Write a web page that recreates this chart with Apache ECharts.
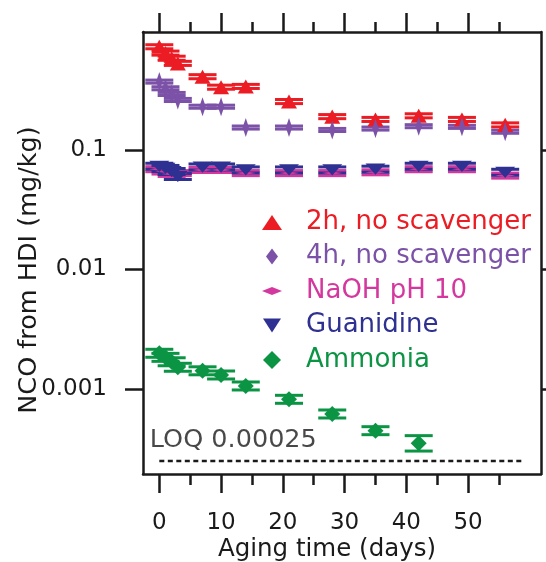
<!DOCTYPE html>
<html>
<head>
<meta charset="utf-8">
<script src="https://cdn.jsdelivr.net/npm/echarts@6/dist/echarts.min.js"></script>
<style>html,body{margin:0;padding:0;background:#fff}#c{width:546px;height:562px}</style>
</head>
<body>
<div id="c"></div>
<script>
// ---- data ----
const days = [0, 1, 2, 3, 7, 10, 14, 21, 28, 35, 42, 49, 56];
const red2h = [0.73, 0.646, 0.585, 0.53, 0.41, 0.335, 0.34, 0.254, 0.19, 0.18, 0.193, 0.18, 0.162];
const red2hErr = [0.04, 0.04, 0.04, 0.04, 0.04, 0.04, 0.04, 0.04, 0.04, 0.04, 0.04, 0.04, 0.04];
const purple4h = [0.373, 0.328, 0.294, 0.262, 0.23, 0.23, 0.154, 0.154, 0.147, 0.151, 0.158, 0.156, 0.142];
const purple4hErr = [0.03, 0.03, 0.03, 0.03, 0.03, 0.03, 0.03, 0.03, 0.03, 0.03, 0.03, 0.03, 0.03];
const naoh = [0.069, 0.066, 0.063, 0.064, 0.068, 0.068, 0.064, 0.064, 0.064, 0.065, 0.069, 0.069, 0.061];
const naohErr = [0.05, 0.05, 0.05, 0.05, 0.05, 0.05, 0.05, 0.05, 0.05, 0.05, 0.05, 0.05, 0.05];
const guanidine = [0.073, 0.07, 0.066, 0.06, 0.072, 0.072, 0.068, 0.068, 0.068, 0.069, 0.073, 0.073, 0.065];
const guanidineErr = [0.06, 0.06, 0.06, 0.06, 0.06, 0.06, 0.06, 0.06, 0.06, 0.06, 0.06, 0.06, 0.06];
const ammoniaDays = [0, 1, 2, 3, 7, 10, 14, 21, 28, 35, 42];
const ammonia = [0.00199, 0.00184, 0.00169, 0.00152, 0.00142, 0.00131, 0.00106, 0.00082, 0.000618, 0.000448, 0.000351];
const ammoniaErr = [0.08, 0.08, 0.08, 0.08, 0.08, 0.08, 0.08, 0.08, 0.08, 0.08, 0.16];
const loqValue = 0.00025;
const loqDays = [0, 59];
const xMajorTicks = [0, 10, 20, 30, 40, 50];
const xMinorTicks = [5, 15, 25, 35, 45, 55];
const yTicks = [0.001, 0.01, 0.1];
const yTickLabels = ['0.001', '0.01', '0.1'];
const names = ['2h, no scavenger', '4h, no scavenger', 'NaOH pH 10', 'Guanidine', 'Ammonia'];
const colors = ['#ec1c24', '#7b52a7', '#d4389e', '#2e3192', '#0b9444'];

// ---- shapes ----
const P_TRI = 'path://M8,0 L16,15 L0,15 Z';
const P_DIA_TALL = 'path://M5.5,0 L11,9.5 L5.5,19 L0,9.5 Z';
const P_DIA_FLAT = 'path://M0,4 L10,0 L20,4 L10,8 Z';
const P_INV_TRI = 'path://M0,0 L20,0 L10,15 Z';
const P_DIA = 'path://M8,0 L16,8 L8,16 L0,8 Z';
// legend icons padded into a common 20x20 box
const L_TRI = 'path://M0,0 M20,20 M10,3 L20,18 L0,18 Z';
const L_DIA_TALL = 'path://M0,0 M20,20 M10,2 L16,10 L10,18 L4,10 Z';
const L_DIA_FLAT = 'path://M0,0 M20,20 M0,10 L10,6 L20,10 L10,14 Z';
const L_INV_TRI = 'path://M0,0 M20,20 M1,3 L19,3 L10,17 Z';
const L_DIA = 'path://M0,0 M20,20 M10,1 L19,10 L10,19 L1,10 Z';

function pairs(xs, ys) { return xs.map((x, i) => [x, ys[i]]); }

function errSeries(id, xs, ys, errs, color) {
  return {
    type: 'custom', name: id, silent: true,
    xAxisIndex: 0, yAxisIndex: 0,
    data: xs.map((x, i) => [x, ys[i] / (1 + errs[i]), ys[i] * (1 + errs[i])]),
    encode: { x: 0, y: [1, 2] },
    renderItem: function (params, api) {
      const x = api.value(0);
      const lo = api.coord([x, api.value(1)]);
      const hi = api.coord([x, api.value(2)]);
      const hw = 14;
      const st = { stroke: color, lineWidth: 3 };
      return {
        type: 'group', children: [
          { type: 'line', shape: { x1: lo[0], y1: lo[1], x2: hi[0], y2: hi[1] }, style: st },
          { type: 'line', shape: { x1: lo[0] - hw, y1: lo[1], x2: lo[0] + hw, y2: lo[1] }, style: st },
          { type: 'line', shape: { x1: hi[0] - hw, y1: hi[1], x2: hi[0] + hw, y2: hi[1] }, style: st }
        ]
      };
    }
  };
}

function scatter(name, xs, ys, color, symbol, size) {
  return {
    type: 'scatter', name: name, xAxisIndex: 0, yAxisIndex: 0,
    data: pairs(xs, ys), symbol: symbol, symbolSize: size, symbolKeepAspect: true,
    itemStyle: { color: color, opacity: 1 }
  };
}

const FONT = 'DejaVu Sans';
const black = '#1a1a1a';
const xMin = -2.64, xMax = 61.8;
const yMin = 1.945e-4, yMax = 0.97;

const xBase = { type: 'value', min: xMin, max: xMax, gridIndex: 0, splitLine: { show: false } };
const yBase = { type: 'log', logBase: 10, min: yMin, max: yMax, gridIndex: 0, splitLine: { show: false } };

const option = {
  animation: false,
  backgroundColor: '#fff',
  grid: { left: 143, right: 5, top: 32, bottom: 88, containLabel: false, outerBoundsMode: 'none' },
  xAxis: [
    Object.assign({}, xBase, {
      position: 'bottom',
      axisLine: { show: true, onZero: false, lineStyle: { color: black, width: 2.5 } },
      axisTick: { show: true, customValues: xMajorTicks, length: 19, lineStyle: { color: black, width: 2.5 } },
      axisLabel: { customValues: xMajorTicks, fontSize: 23, fontFamily: FONT, color: black, margin: 38 },
      name: 'Aging time (days)', nameLocation: 'middle', nameGap: 63, nameMoveOverlap: false,
      nameTextStyle: { fontSize: 24.5, fontFamily: FONT, color: black, padding: [0, 30, 0, 0] }
    }),
    Object.assign({}, xBase, {
      position: 'bottom',
      axisLine: { show: false, onZero: false },
      axisTick: { show: true, customValues: xMinorTicks, length: 11, lineStyle: { color: black, width: 2.5 } },
      axisLabel: { show: false }
    }),
    Object.assign({}, xBase, {
      position: 'top',
      axisLine: { show: true, onZero: false, lineStyle: { color: black, width: 2.5 } },
      axisTick: { show: true, customValues: xMajorTicks, length: 19, lineStyle: { color: black, width: 2.5 } },
      axisLabel: { show: false }
    }),
    Object.assign({}, xBase, {
      position: 'top',
      axisLine: { show: false, onZero: false },
      axisTick: { show: true, customValues: xMinorTicks, length: 10, lineStyle: { color: black, width: 2.5 } },
      axisLabel: { show: false }
    })
  ],
  yAxis: [
    Object.assign({}, yBase, {
      position: 'left',
      axisLine: { show: true, onZero: false, lineStyle: { color: black, width: 2.5 } },
      axisTick: { show: true, customValues: yTicks, length: 18, lineStyle: { color: black, width: 2.5 } },
      axisLabel: {
        customValues: yTicks, fontSize: 23, fontFamily: FONT, color: black, margin: 36,
        formatter: function (v) {
          for (let i = 0; i < yTicks.length; i++) if (Math.abs(Math.log10(v) - Math.log10(yTicks[i])) < 1e-6) return yTickLabels[i];
          return '';
        }
      },
      name: 'NCO from HDI (mg/kg)', nameLocation: 'middle', nameGap: 101, nameRotate: 90, nameMoveOverlap: false,
      nameTextStyle: { fontSize: 25.5, fontFamily: FONT, color: black, padding: [0, 34, 0, 0] }
    }),
    Object.assign({}, yBase, {
      position: 'right',
      axisLine: { show: true, onZero: false, lineStyle: { color: black, width: 2.5 } },
      axisTick: { show: true, customValues: yTicks, length: 12, lineStyle: { color: black, width: 2.5 } },
      axisLabel: { show: false }
    })
  ],
  legend: {
    orient: 'vertical', left: 257, top: 204,
    itemWidth: 20, itemHeight: 20, itemGap: 8.5, symbolKeepAspect: true,
    textStyle: { fontSize: 26, fontFamily: FONT, padding: [0, 0, 0, 19] },
    selectedMode: false,
    data: names.map((n, i) => ({
      name: n,
      icon: [L_TRI, L_DIA_TALL, L_DIA_FLAT, L_INV_TRI, L_DIA][i],
      itemStyle: { color: colors[i] },
      textStyle: { color: colors[i] }
    }))
  },
  series: [
    {
      type: 'line', name: 'LOQ', xAxisIndex: 0, yAxisIndex: 0,
      data: pairs(loqDays, [loqValue, loqValue]), symbol: 'none', silent: true,
      lineStyle: { color: black, width: 2.5, type: [5, 3.5] }
    },
    {
      type: 'scatter', name: 'LOQ label', xAxisIndex: 0, yAxisIndex: 0, silent: true,
      data: [[loqDays[0], loqValue]], symbolSize: 1, itemStyle: { color: 'rgba(0,0,0,0)' },
      label: {
        show: true, position: 'right', offset: [-15, -21], formatter: 'LOQ 0.00025',
        fontSize: 25.5, fontFamily: FONT, color: black
      }
    },
    errSeries('e1', days, red2h, red2hErr, colors[0]),
    scatter(names[0], days, red2h, colors[0], P_TRI, [16, 15]),
    errSeries('e2', days, purple4h, purple4hErr, colors[1]),
    scatter(names[1], days, purple4h, colors[1], P_DIA_TALL, [11, 19]),
    errSeries('e3', days, naoh, naohErr, colors[2]),
    scatter(names[2], days, naoh, colors[2], P_DIA_FLAT, [20, 8]),
    errSeries('e4', days, guanidine, guanidineErr, colors[3]),
    scatter(names[3], days, guanidine, colors[3], P_INV_TRI, [20, 15]),
    errSeries('e5', ammoniaDays, ammonia, ammoniaErr, colors[4]),
    scatter(names[4], ammoniaDays, ammonia, colors[4], P_DIA, [16, 16])
  ]
};

const chart = echarts.init(document.getElementById('c'), null, { renderer: 'canvas' });
chart.setOption(option);
</script>
</body>
</html>
